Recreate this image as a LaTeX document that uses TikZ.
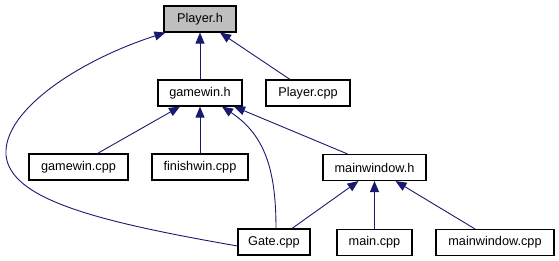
\documentclass[tikz,border=0pt]{standalone}
\usepackage{fontspec}
\setmainfont{Liberation Sans}
\usetikzlibrary{arrows.meta}
\definecolor{edgeblue}{RGB}{25,25,112}
\definecolor{hdrgray}{RGB}{191,191,191}
\begin{document}
\begin{tikzpicture}[x=1pt,y=-1pt,
  file/.style={draw=black,line width=1.1pt,fill=white,inner sep=0pt,minimum height=26pt,font=\fontsize{12.7}{14}\selectfont},
  dep/.style={draw=edgeblue,line width=0.9pt,-{Triangle[length=11pt,width=9pt]}}]
\useasboundingbox (0,0) rectangle (559,261);
\node[file,fill=hdrgray,minimum width=72pt] (playerh) at (200,19) {Player.h};
\node[file,minimum width=84pt] (gamewinh) at (200,93) {gamewin.h};
\node[file,minimum width=84pt] (playercpp) at (308,93) {Player.cpp};
\node[file,minimum width=99pt] (gamewincpp) at (78.5,167) {gamewin.cpp};
\node[file,minimum width=96pt] (finishcpp) at (200,167) {finishwin.cpp};
\node[file,minimum width=103pt] (mainwinh) at (374.5,167.5) {mainwindow.h};
\node[file,minimum width=72pt] (gatecpp) at (274,242) {Gate.cpp};
\node[file,minimum width=75pt] (maincpp) at (374.5,242.5) {main.cpp};
\node[file,minimum width=118pt] (mainwincpp) at (495,242.5) {mainwindow.cpp};
\draw[dep] (gamewinh) -- (playerh);
\draw[dep] ([xshift=-18pt]playercpp.north) -- ([xshift=20pt]playerh.south);
\draw[dep] ([yshift=-4pt]gatecpp.west) .. controls (100,222) and (10,200) .. (6,155)
  .. controls (3,110) and (80,60) .. ([xshift=2pt]playerh.south west);
\draw[dep] ([xshift=19pt]gamewincpp.north) -- ([xshift=-20pt]gamewinh.south);
\draw[dep] (finishcpp) -- (gamewinh);
\draw[dep] ([xshift=2pt]gatecpp.north) .. controls (276,170) and (265,135) .. ([xshift=22pt]gamewinh.south);
\draw[dep] ([xshift=-27pt]mainwinh.north) -- ([xshift=34pt]gamewinh.south);
\draw[dep] ([xshift=18pt]gatecpp.north) -- ([xshift=-16pt]mainwinh.south);
\draw[dep] (maincpp) -- (mainwinh);
\draw[dep] ([xshift=-20pt]mainwincpp.north) -- ([xshift=21pt]mainwinh.south);
\end{tikzpicture}
\end{document}
